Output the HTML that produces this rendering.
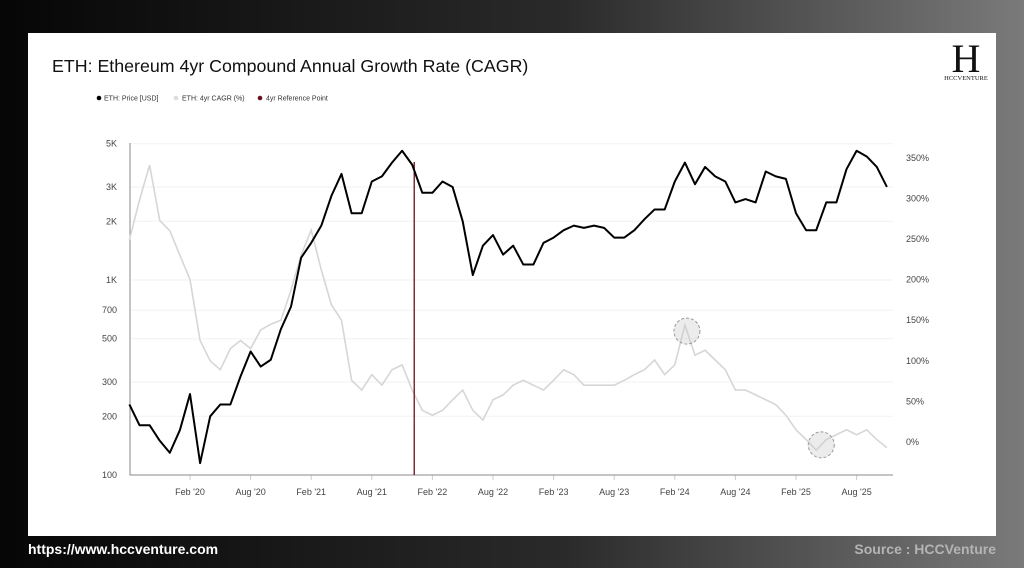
<!DOCTYPE html>
<html><head><meta charset="utf-8"><style>
html,body{margin:0;padding:0;width:1024px;height:568px;overflow:hidden;font-family:"Liberation Sans",sans-serif}
#bg{position:absolute;left:0;top:0;width:1024px;height:568px;background:linear-gradient(90deg,#060606 0%,#2a2a2a 55%,#7a7a7a 100%)}
#card{position:absolute;left:28px;top:33px;width:968px;height:503px;background:#fff}
.foot{position:absolute;top:541px;font-weight:bold;font-size:14px}
</style></head><body>
<div id="bg"></div>
<div id="card"></div>
<div class="foot" style="left:28px;color:#fff">https://www.hccventure.com</div>
<div class="foot" style="right:28px;color:#b4b4b4">Source : HCCVenture</div>
<svg id="chart" width="1024" height="568" style="position:absolute;left:0;top:0">
<text x="52" y="72" font-size="17.8" fill="#111">ETH: Ethereum 4yr Compound Annual Growth Rate (CAGR)</text>
<g font-size="7" fill="#333">
<g><circle cx="99" cy="98" r="2.3" fill="#000"/><text x="104" y="100.5">ETH: Price [USD]</text></g>
<g><circle cx="176" cy="98" r="2.3" fill="#ddd"/><text x="182" y="100.5">ETH: 4yr CAGR (%)</text></g>
<g><circle cx="260" cy="98" r="2.3" fill="#6b0f1a"/><text x="266" y="100.5">4yr Reference Point</text></g>
</g>
<g>
<text x="966" y="72" font-family="Liberation Serif,serif" font-size="40" text-anchor="middle" fill="#111">H</text>
<text x="966" y="80" font-family="Liberation Serif,serif" font-size="6.5" text-anchor="middle" fill="#111">HCCVENTURE</text>
</g>
<g id="grid"></g><g id="axes"></g><g id="marks"></g>
</svg>
<script>
const months = ["Aug19","Sep19","Oct19","Nov19","Dec19","Jan20","Feb20","Mar20","Apr20","May20","Jun20","Jul20","Aug20","Sep20","Oct20","Nov20","Dec20","Jan21","Feb21","Mar21","Apr21","May21","Jun21","Jul21","Aug21","Sep21","Oct21","Nov21","Dec21","Jan22","Feb22","Mar22","Apr22","May22","Jun22","Jul22","Aug22","Sep22","Oct22","Nov22","Dec22","Jan23","Feb23","Mar23","Apr23","May23","Jun23","Jul23","Aug23","Sep23","Oct23","Nov23","Dec23","Jan24","Feb24","Mar24","Apr24","May24","Jun24","Jul24","Aug24","Sep24","Oct24","Nov24","Dec24","Jan25","Feb25","Mar25","Apr25","May25","Jun25","Jul25","Aug25","Sep25","Oct25","Nov25"];
const price = [230,180,180,150,130,170,260,115,200,230,230,320,430,360,390,560,730,1300,1550,1900,2700,3500,2200,2200,3200,3400,4000,4600,3900,2800,2800,3200,3000,2000,1060,1500,1700,1350,1500,1200,1200,1550,1650,1800,1900,1850,1900,1850,1650,1650,1800,2050,2300,2300,3200,4000,3100,3800,3400,3200,2500,2600,2500,3600,3400,3300,2200,1800,1800,2500,2500,3700,4600,4300,3800,3000];
const cagr = [249,298,341,273,260,230,200,125,100,89,115,125,115,138,145,150,187,230,261,212,169,150,76,64,83,70,89,95,64,39,33,39,52,64,39,27,52,58,70,76,70,64,76,89,83,70,70,70,70,76,83,89,101,83,95,144,107,113,101,89,64,64,58,52,46,33,15,3,-10,3,9,15,9,15,3,-7];
const priceTicks = [100,200,300,500,700,1000,2000,3000,5000];
const priceTickLabels = ["100","200","300","500","700","1K","2K","3K","5K"];
const cagrTicks = [0,50,100,150,200,250,300,350];
const xTickMonths = ["Feb20","Aug20","Feb21","Aug21","Feb22","Aug22","Feb23","Aug23","Feb24","Aug24","Feb25","Aug25"];
const xTickLabels = ["Feb '20","Aug '20","Feb '21","Aug '21","Feb '22","Aug '22","Feb '23","Aug '23","Feb '24","Aug '24","Feb '25","Aug '25"];
const refMonth = 28.2;
const highlights = [55.2, 68.5];

const L=130,R=893,T=143,B=475;
const xS = i => 190 + (i-6)*10.1;
const yP = p => B - (Math.log10(p)-2)*195;
const yC = c => 442 - c*40.6/50;
const NS="http://www.w3.org/2000/svg";
function mk(tag,attrs,parent){const e=document.createElementNS(NS,tag);for(const k in attrs)e.setAttribute(k,attrs[k]);parent.appendChild(e);return e;}
const grid=document.getElementById('grid'),axes=document.getElementById('axes'),marks=document.getElementById('marks');
priceTicks.forEach((p,i)=>{
  const y=yP(p);
  const g=mk('line',{x1:L,x2:R,y1:y,y2:y,stroke:'#f2f2f2','stroke-width':1},grid);
  
  
  const t=mk('text',{x:117,y:y+3,'font-size':9,fill:'#444','text-anchor':'end'},axes);
  t.textContent=priceTickLabels[i];
  
  
});
cagrTicks.forEach(c=>{
  const y=yC(c);
  const t=mk('text',{x:906,y:y+3,'font-size':9,fill:'#444'},axes);
  t.textContent=c+'%';
  
  
});
xTickMonths.forEach((m,i)=>{
  const x=xS(months.indexOf(m));
  const tk=mk('line',{x1:x,x2:x,y1:B,y2:B+5,stroke:'#ccc'},axes);
  
  
  const t=mk('text',{x:x,y:B+20,'font-size':9,fill:'#444','text-anchor':'middle'},axes);
  t.textContent=xTickLabels[i];
  
  
});
const ax=mk('path',{d:`M${L},${T}V${B}H${R}`,fill:'none',stroke:'#888','stroke-width':1},axes);


const cl=mk('polyline',{points:cagr.map((c,i)=>xS(i)+','+yC(c)).join(' '),fill:'none',stroke:'#d6d6d6','stroke-width':1.6},marks);


highlights.forEach(i=>{
  const lo=Math.floor(i),f=i-lo,c=cagr[lo]*(1-f)+cagr[Math.min(lo+1,cagr.length-1)]*f;
  const h=mk('circle',{cx:xS(i),cy:yC(c),r:13,fill:'rgba(200,200,200,0.35)',stroke:'#999','stroke-dasharray':'3,2','stroke-width':1},marks);
  
  
});
const rl=mk('line',{x1:xS(refMonth),x2:xS(refMonth),y1:162,y2:B,stroke:'#6b0f1a','stroke-width':1.3},marks);


const pl=mk('polyline',{points:price.map((p,i)=>xS(i)+','+yP(p)).join(' '),fill:'none',stroke:'#000','stroke-width':2,'stroke-linejoin':'round'},marks);


</script>
</body></html>
